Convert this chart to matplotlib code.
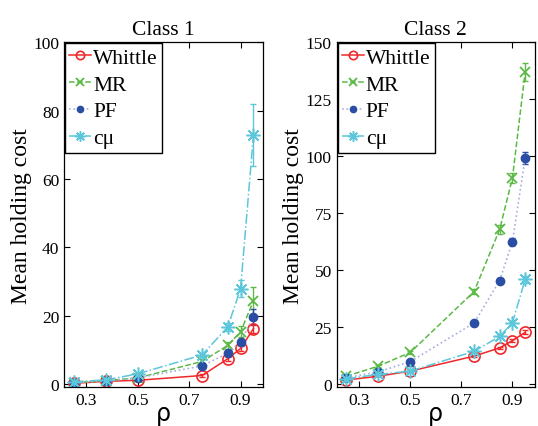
import numpy as np
import matplotlib
matplotlib.use("Agg")
import matplotlib.pyplot as plt

plt.rcParams['font.family'] = ['Liberation Serif', 'DejaVu Serif']

rho = [0.25, 0.375, 0.5, 0.75, 0.85, 0.9, 0.95]
names = ["Whittle", "MR", "PF", "c\u03bc"]

# class 1
c1_whittle = [0.3, 0.9, 1.2, 2.6, 7.5, 10.5, 16.3]
c1_mr = [0.5, 1.1, 1.9, 6.7, 11.4, 15.4, 24.4]
c1_pf = [0.5, 1.0, 1.9, 5.4, 9.1, 12.5, 19.8]
c1_cmu = [0.8, 1.3, 3.1, 8.6, 16.8, 28.0, 72.8]
c1_err_whittle = [0.1, 0.1, 0.1, 0.3, 0.6, 0.8, 1.2]
c1_err_mr = [0.1, 0.1, 0.2, 0.6, 1.0, 1.6, 4.1]
c1_err_pf = [0.1, 0.1, 0.1, 0.4, 0.6, 0.9, 2.2]
c1_err_cmu = [0.1, 0.1, 0.3, 0.7, 1.2, 2.5, 9.1]

# class 2
c2_whittle = [1.9, 3.6, 5.8, 12.4, 16.0, 19.2, 22.8]
c2_mr = [3.6, 8.0, 14.0, 40.7, 67.9, 90.4, 137.0]
c2_pf = [2.9, 5.5, 10.0, 26.9, 45.5, 62.5, 99.3]
c2_cmu = [2.5, 4.4, 5.8, 14.5, 21.0, 27.0, 46.0]
c2_err_whittle = [0.1, 0.1, 0.2, 0.4, 0.6, 0.7, 0.9]
c2_err_mr = [0.2, 0.3, 0.5, 1.2, 1.8, 2.2, 4.0]
c2_err_pf = [0.1, 0.2, 0.3, 0.7, 1.2, 1.6, 2.5]
c2_err_cmu = [0.1, 0.2, 0.2, 0.5, 0.7, 0.9, 1.5]

red = '#f0282a'
green = '#5cb946'
blue = '#2a4ea3'
lav = '#a6aee0'
cyan = '#5cc6da'
star = (8, 2, 0)

def draw(ax, vals, errs, ymax, yticks, title):
    w, m, p, c = vals
    ew, em, ep, ec = errs
    # error bars first, then lines with markers
    ax.errorbar(rho, w, yerr=ew, fmt='none', ecolor=red, capsize=2, elinewidth=1)
    ax.errorbar(rho, m, yerr=em, fmt='none', ecolor=green, capsize=2, elinewidth=1)
    ax.errorbar(rho, p, yerr=ep, fmt='none', ecolor=blue, capsize=2, elinewidth=1)
    ax.errorbar(rho, c, yerr=ec, fmt='none', ecolor=cyan, capsize=2, elinewidth=1)
    ax.plot(rho, w, color=red, ls='-', lw=1.1, marker='o', ms=8,
            mfc='none', mec=red, mew=1.2, label=names[0])
    ax.plot(rho, m, color=green, ls='--', lw=1.1, marker='x', ms=7,
            mew=1.3, label=names[1])
    ax.plot(rho, p, color=lav, ls=':', lw=1.2, marker='o', ms=6,
            mfc=blue, mec=blue, label=names[2])
    ax.plot(rho, c, color=cyan, ls='-.', lw=1.1, marker=star, ms=10,
            mew=1.1, label=names[3])
    ax.set_xlim(0.2125, 0.9875)
    ax.set_ylim(-0.8 * ymax / 100, ymax)
    ax.set_xticks([0.3, 0.5, 0.7, 0.9])
    ax.set_xticklabels(["0.3", "0.5", "0.7", "0.9"])
    ax.set_yticks(yticks)
    ax.tick_params(direction='in', top=True, right=True, labelsize=12.5, length=4)
    ax.set_title(title, fontsize=15.5, pad=6)
    ax.set_ylabel("Mean holding cost", fontsize=17, labelpad=1)
    ax.set_xlabel("\u03c1", fontsize=17, family='DejaVu Sans', labelpad=-5)
    for s in ax.spines.values():
        s.set_linewidth(0.9)
    leg = ax.legend(loc='upper left', fontsize=15.5, handlelength=1.0, handletextpad=0.1,
                    borderaxespad=0.05, borderpad=0.2, labelspacing=0.32, fancybox=False,
                    framealpha=1, markerscale=0.75)
    leg.get_frame().set_edgecolor('black')
    leg.get_frame().set_linewidth(1.0)

fig = plt.figure(figsize=(5.38, 4.27), dpi=100)
ax1 = fig.add_axes([0.119, 0.091, 0.370, 0.808])
ax2 = fig.add_axes([0.626, 0.091, 0.368, 0.808])

draw(ax1, [c1_whittle, c1_mr, c1_pf, c1_cmu],
     [c1_err_whittle, c1_err_mr, c1_err_pf, c1_err_cmu], 100, [0, 20, 40, 60, 80, 100], "Class 1")
draw(ax2, [c2_whittle, c2_mr, c2_pf, c2_cmu],
     [c2_err_whittle, c2_err_mr, c2_err_pf, c2_err_cmu], 150, [0, 25, 50, 75, 100, 125, 150], "Class 2")

fig.savefig("out.png", dpi=100)
